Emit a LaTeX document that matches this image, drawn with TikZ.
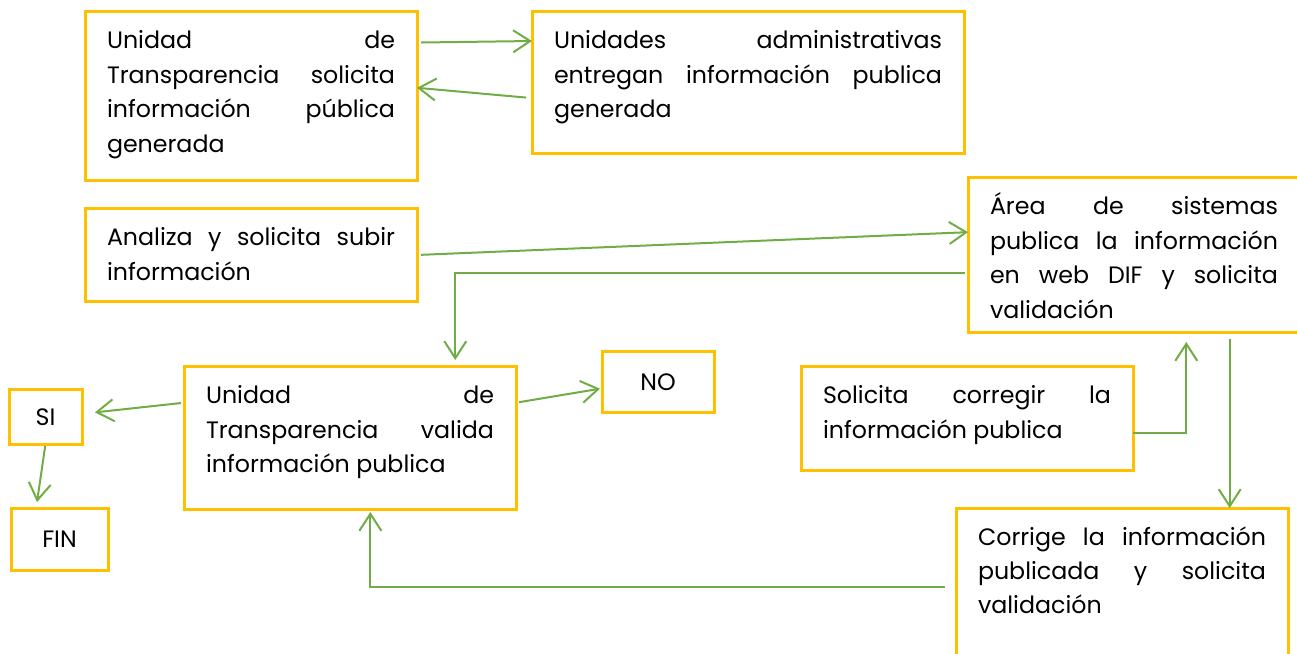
\documentclass[tikz,border=0pt]{standalone}
\usepackage{fontspec}
\setmainfont{Poppins}
\usetikzlibrary{arrows.meta, positioning}
\definecolor{boxyellow}{HTML}{FFC000}
\definecolor{arrowgreen}{HTML}{70AD47}

\begin{document}
\begin{tikzpicture}[>={Straight Barb[length=0.34cm,width=0.44cm]},
    every node/.style={font=\fontsize{13.5}{19.6}\selectfont},
    box/.style={draw=boxyellow, line width=0.06cm, outer sep=0pt, anchor=north west, inner xsep=0.44cm, inner ysep=0pt,
        text width=5.76cm, text height=0.74cm, align=justify},
    small/.style={draw=boxyellow, line width=0.06cm, outer sep=0pt, inner sep=0pt},
    flow/.style={->, draw=arrowgreen, line width=0.04cm}]
    \useasboundingbox (0,0) rectangle (25.94,-13.08);
    \clip (0,0) rectangle (25.94,-13.08);

    \node [box, text depth=2.64cm] (A) at (1.70,-0.24) {Unidad de\linebreak Transparencia solicita\linebreak información pública\linebreak generada};
    \node [box, text width=7.76cm, text depth=2.10cm] (B) [right=2.30cm of A.north east, anchor=north west] {Unidades administrativas\linebreak entregan información publica\linebreak generada};
    \node [box, text depth=1.10cm] (C) [below=0.56cm of A.south west, anchor=north west] {Analiza y solicita subir\linebreak información};
    \node [box, text depth=2.36cm] (D) at (19.36,-3.56) {Área de sistemas\linebreak publica la información\linebreak en web DIF y solicita\linebreak validación};
    \node [box, text depth=2.10cm] (E) at (3.68,-7.34) {Unidad de\linebreak Transparencia valida\linebreak información publica};
    \node [box, text depth=1.32cm] (F) [right=5.70cm of E.north east, anchor=north west] {Solicita corregir la\linebreak información publica};
    \node [box, text depth=2.42cm] (G) at (19.12,-10.16) {Corrige la información\linebreak publicada y solicita\linebreak validación};
    \node [small, minimum width=2.24cm, minimum height=1.22cm] (NO) at (13.16,-7.65) {NO};
    \node [small, minimum width=1.46cm, minimum height=1.08cm] (SI) at (0.91,-8.34) {SI};
    \node [small, minimum width=1.94cm, minimum height=1.24cm] (FIN) at (1.19,-10.78) {FIN};

    \draw [flow, shorten <=0.08cm] (A.18) -- (B.169);
    \draw [flow, shorten <=0.12cm] (B.184) -- (A.3);
    \draw [flow, shorten <=0.08cm] (C.east) -- (D.172);
    \draw [flow, shorten <=0.06cm, shorten >=0.14cm] (D.186) -| (E.34);
    \draw [flow, shorten <=0.06cm, shorten >=0.04cm] (E.12) -- (NO.186);
    \draw [flow, shorten <=0.06cm, shorten >=0.26cm] (E.168) -- (SI.5);
    \draw [flow, shorten <=0.04cm, shorten >=0.12cm] (SI.south) -- (FIN.127);
    \draw [flow, shorten >=0.18cm] (F.-5) -| (D.-56);
    \draw [flow, shorten <=0.12cm] (D.-39) -- (D.-39 |- G.north);
    \draw [flow, shorten <=0.22cm, shorten >=0.06cm] (G.west) -| (E.-74);
\end{tikzpicture}
\end{document}
